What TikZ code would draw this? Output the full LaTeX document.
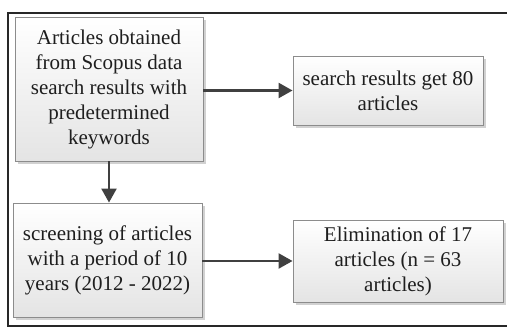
\documentclass[tikz,border=0pt]{standalone}
\usepackage{fontspec}
\setmainfont{Liberation Serif}
\usepackage{xcolor}
\usepackage{tikz}
\usetikzlibrary{arrows.meta, positioning, shadows}
\definecolor{framegray}{RGB}{40, 40, 40}
\definecolor{boxedge}{RGB}{140, 140, 140}
\definecolor{boxlow}{RGB}{228, 228, 228}
\definecolor{arrowgray}{RGB}{64, 64, 64}
\definecolor{textdark}{RGB}{30, 30, 30}

\begin{document}
\begin{tikzpicture}[x=1pt, y=-1pt,
    stagebox/.style={draw=boxedge, line width=0.9pt, top color=white, bottom color=boxlow,
        drop shadow={shadow xshift=3pt, shadow yshift=-3pt, fill=black, opacity=0.18},
        align=center, inner sep=0pt, text=textdark,
        font=\fontsize{21}{25}\selectfont},
    flowarrow/.style={arrowgray, line width=2.4pt, -{Triangle[length=14pt, width=15pt]}}]
    \useasboundingbox (0,0) rectangle (507,328);

    % Outer frame (right side runs off the page)
    \draw[framegray, line width=1.8pt] (507,13) -- (8,13) -- (8,326) -- (507,326);

    % Left column
    \node[stagebox, minimum width=188pt, minimum height=144pt] (articles) at (109,89)
        {Articles obtained\\from Scopus data\\search results with\\predetermined\\keywords};
    \node[stagebox, minimum width=189pt, minimum height=114pt] (screening) at (107.5,260)
        {screening of articles\\with a period of 10\\years (2012 - 2022)};

    % Right column
    \node[stagebox, minimum width=190pt, minimum height=69pt] (results) at (388,90.5)
        {search results get 80\\articles};
    \node[stagebox, minimum width=210pt, minimum height=82pt] (elimination) at (398,261)
        {Elimination of 17\\articles (n = 63\\articles)};

    % Connectors
    \draw[flowarrow] (articles.east |- results.west) -- (results.west);
    \draw[flowarrow] (articles.south) -- (screening.north -| articles.south);
    \draw[flowarrow] (screening.east |- elimination.west) -- (elimination.west);
\end{tikzpicture}
\end{document}
